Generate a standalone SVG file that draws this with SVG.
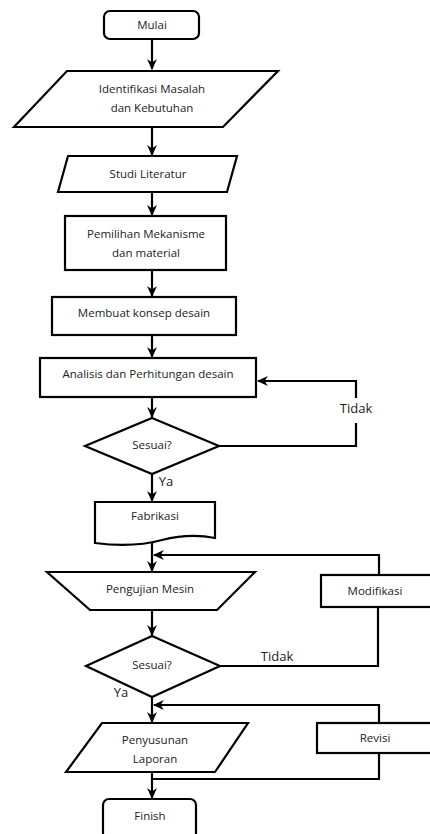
<svg xmlns="http://www.w3.org/2000/svg" width="430" height="834" viewBox="0 0 430 834">
  <style>
    .shape { fill: #ffffff; stroke: #000000; stroke-width: 2.2; stroke-linejoin: miter; }
    .line { fill: none; stroke: #000000; stroke-width: 2.2; }
    .arrow { fill: none; stroke: #000000; stroke-width: 2.2; marker-end: url(#head); }
    text { font-family: "Open Sans", "Noto Sans", sans-serif; font-size: 11.5px; fill: #222222; text-anchor: middle; }
    text.label { font-size: 13px; }
  </style>
  <defs>
    <marker id="head" viewBox="0 0 10 10" markerUnits="userSpaceOnUse" markerWidth="11" markerHeight="11" refX="9" refY="5" orient="auto">
      <path d="M0,0.5 L10,5 L0,9.5 L3,5 Z" fill="#000000"/>
    </marker>
  </defs>
  <rect width="430" height="834" fill="#ffffff"/>

  <!-- connectors -->
  <g id="connectors">
    <path class="arrow" d="M152,39 V69"/>
    <path class="arrow" d="M152,128 V155"/>
    <path class="arrow" d="M152,193 V215"/>
    <path class="arrow" d="M152,271 V296"/>
    <path class="arrow" d="M152,336 V357"/>
    <path class="arrow" d="M152,398 V417"/>
    <path class="arrow" d="M152,474 V501"/>
    <path class="arrow" d="M152,542 V571"/>
    <path class="arrow" d="M152,610 V635"/>
    <path class="arrow" d="M152,697 V722"/>
    <path class="arrow" d="M152,773 V798"/>
    <!-- Tidak loop back to analysis -->
    <path class="line" d="M219,446 H356 V423"/>
    <path class="arrow" d="M356,398 V381 H258"/>
    <!-- Tidak to modifikasi, then back to testing -->
    <path class="line" d="M220,666 H378 V608"/>
    <path class="arrow" d="M379,575 V555 H154"/>
    <!-- revisi loop -->
    <path class="arrow" d="M379,723 V705 H154"/>
    <path class="line" d="M379,753 V779 H152"/>
  </g>

  <g id="mulai">
    <rect class="shape" x="104" y="11" width="95" height="28" rx="6"/>
    <text x="152" y="29">Mulai</text>
  </g>

  <g id="identifikasi">
    <polygon class="shape" points="67,71 278,71 223,127 14,127"/>
    <text x="152" y="93">Identifikasi Masalah</text>
    <text x="152" y="112">dan Kebutuhan</text>
  </g>

  <g id="studi">
    <polygon class="shape" points="68,156 237,156 227,192 58,192"/>
    <text x="148" y="178">Studi Literatur</text>
  </g>

  <g id="pemilihan">
    <rect class="shape" x="65" y="216" width="161" height="54"/>
    <text x="146" y="238">Pemilihan Mekanisme</text>
    <text x="146" y="257">dan material</text>
  </g>

  <g id="konsep">
    <rect class="shape" x="52" y="297" width="184" height="38"/>
    <text x="144" y="317">Membuat konsep desain</text>
  </g>

  <g id="analisis">
    <rect class="shape" x="40" y="358" width="216" height="39"/>
    <text x="148" y="378">Analisis dan Perhitungan desain</text>
  </g>

  <g id="sesuai1">
    <polygon class="shape" points="152,418 219,446 152,474 85,446"/>
    <text x="152" y="449">Sesuai?</text>
  </g>
  <text class="label" x="356" y="413">Tidak</text>
  <text class="label" x="166" y="486">Ya</text>

  <g id="fabrikasi">
    <path class="shape" d="M95,502 H215 V538 C200,535 182,535 162,540 C140,546 118,546 95,543 Z"/>
    <text x="155" y="520">Fabrikasi</text>
  </g>

  <g id="pengujian">
    <polygon class="shape" points="47,572 255,572 217,610 90,610"/>
    <text x="150" y="593">Pengujian Mesin</text>
  </g>

  <g id="modifikasi">
    <rect class="shape" x="321" y="575" width="111" height="32"/>
    <text x="375" y="595">Modifikasi</text>
  </g>

  <g id="sesuai2">
    <polygon class="shape" points="152,636 220,666 152,697 86,666"/>
    <text x="152" y="669">Sesuai?</text>
  </g>
  <text class="label" x="277" y="661">Tidak</text>
  <text class="label" x="121" y="697">Ya</text>

  <g id="penyusunan">
    <polygon class="shape" points="102,723 248,723 215,772 66,772"/>
    <text x="155" y="744">Penyusunan</text>
    <text x="155" y="763">Laporan</text>
  </g>

  <g id="revisi">
    <rect class="shape" x="317" y="723" width="115" height="30"/>
    <text x="375" y="742">Revisi</text>
  </g>

  <g id="finish">
    <rect class="shape" x="103" y="799" width="93" height="40" rx="6"/>
    <text x="150" y="820">Finish</text>
  </g>
</svg>
